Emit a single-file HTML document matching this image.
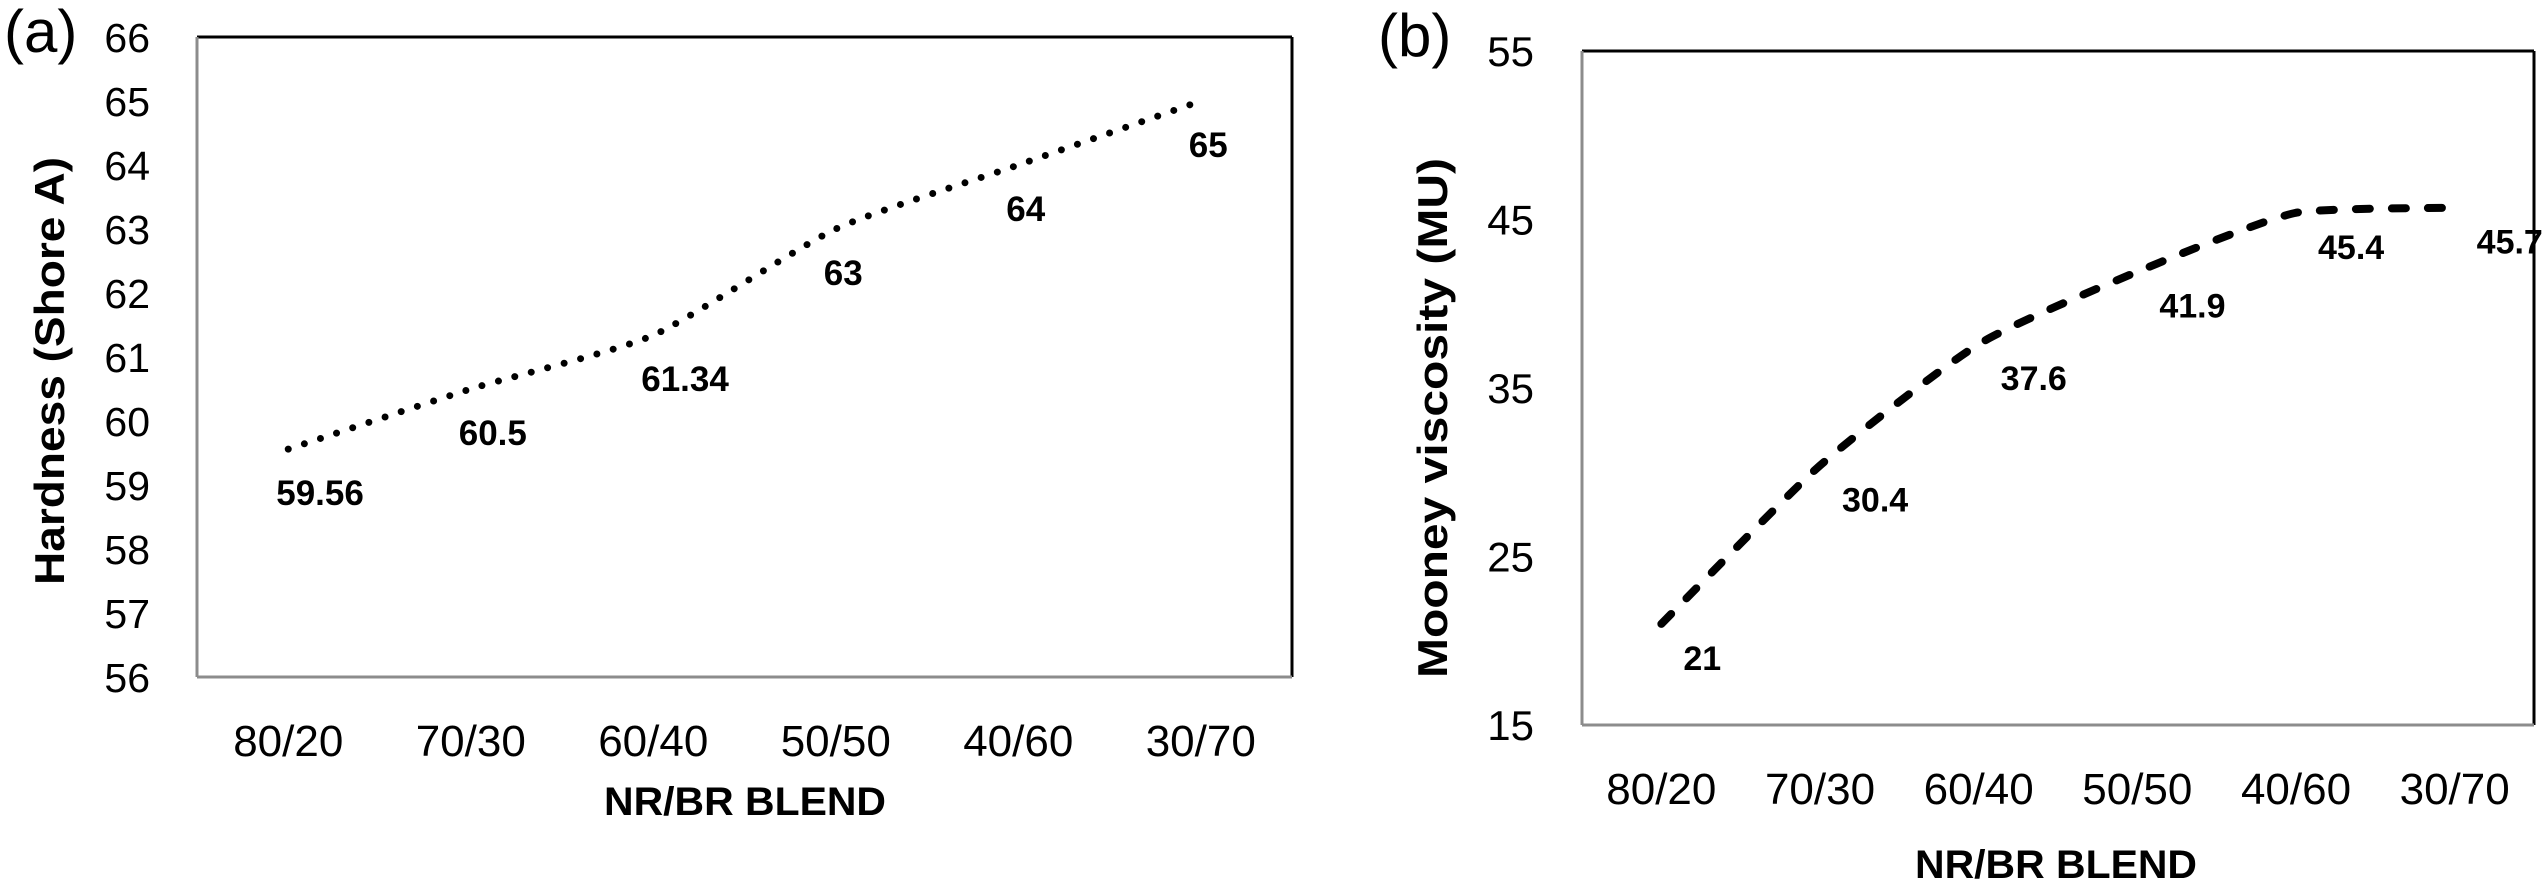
<!DOCTYPE html>
<html><head><meta charset="utf-8"><style>
html,body{margin:0;padding:0;background:#fff}
svg{display:block}
text{font-family:"Liberation Sans",sans-serif;fill:#000}
</style></head><body>
<svg id="chart" width="2543" height="886" viewBox="0 0 2543 886" xmlns="http://www.w3.org/2000/svg">
<text x="4" y="52" font-size="60">(a)</text>
<text x="1378" y="56" font-size="60">(b)</text>
<g id="ga"></g>
<g id="gb"></g>
</svg>
<script>
const categories = ["80/20","70/30","60/40","50/50","40/60","30/70"];
const hardnessValues = [59.56, 60.5, 61.34, 63, 64, 65];
const hardnessLabels = ["59.56","60.5","61.34","63","64","65"];
const hardnessTicks = [56,57,58,59,60,61,62,63,64,65,66];
const mooneyValues = [21, 30.4, 37.6, 41.9, 45.4, 45.7];
const mooneyLabels = ["21","30.4","37.6","41.9","45.4","45.7"];
const mooneyTicks = [15,25,35,45,55];

const NS="http://www.w3.org/2000/svg";
function mk(tag, attrs, parent){const e=document.createElementNS(NS,tag);for(const k in attrs)e.setAttribute(k,attrs[k]);parent.appendChild(e);return e;}

function smoothPath(pts){
  let d="M"+pts[0][0]+","+pts[0][1];
  for(let i=0;i<pts.length-1;i++){
    const p0=pts[i-1]||pts[i],p1=pts[i],p2=pts[i+1],p3=pts[i+2]||p2;
    const t=0.1;
    const lo=Math.min(p1[1],p2[1]), hi=Math.max(p1[1],p2[1]);
    const cl=v=>Math.max(lo,Math.min(hi,v));
    const c1=[p1[0]+(p2[0]-p0[0])*t,cl(p1[1]+(p2[1]-p0[1])*t)];
    const c2=[p2[0]-(p3[0]-p1[0])*t,cl(p2[1]-(p3[1]-p1[1])*t)];
    d+=" C"+c1[0]+","+c1[1]+" "+c2[0]+","+c2[1]+" "+p2[0]+","+p2[1];
  }
  return d;
}

function drawPanel(g, cfg){
  const {L,T,R,B,min,max,ticks,values,labels}=cfg;
  const n=categories.length, bw=(R-L)/n;
  const xS=i=>L+bw*(i+0.5);
  const yS=v=>B-(v-min)/(max-min)*(B-T);
  let e;
  e=mk("line",{x1:L,y1:T,x2:R,y2:T,stroke:"#000","stroke-width":3},g);
  
  
  e=mk("line",{x1:R,y1:T,x2:R,y2:B,stroke:"#000","stroke-width":3},g);
  
  
  e=mk("line",{x1:L,y1:T,x2:L,y2:B,stroke:"#8c8c8c","stroke-width":3},g);
  
  
  e=mk("line",{x1:L,y1:B,x2:R,y2:B,stroke:"#8c8c8c","stroke-width":3},g);
  
  
  ticks.forEach(t=>{
    const tx=mk("text",{x:cfg.tickRight,y:yS(t)+cfg.tickFs*0.36,"font-size":cfg.tickFs,"text-anchor":"end"},g);
    tx.textContent=t;
    
    
  });
  categories.forEach((c,i)=>{
    const tx=mk("text",{x:xS(i),y:cfg.xLabY,"font-size":cfg.xFs,"text-anchor":"middle"},g);
    tx.textContent=c;
    
    
  });
  const pts=values.map((v,i)=>[xS(i),yS(v)]);
  const p=mk("path",{d:smoothPath(pts),fill:"none",stroke:"#000","stroke-width":cfg.sw,"stroke-linecap":"round","stroke-dasharray":cfg.dash},g);
  
  
  values.forEach((v,i)=>{
    const tx=mk("text",{x:xS(i)+cfg.ldx,y:yS(v)+cfg.ldy,"font-size":cfg.lFs,"font-weight":"bold"},g);
    tx.textContent=labels[i];
    
    
  });
  let t=mk("text",{x:cfg.xtX,y:cfg.xtY,"font-size":40,"font-weight":"bold","text-anchor":"middle",textLength:282,lengthAdjust:"spacingAndGlyphs"},g);
  t.textContent="NR/BR BLEND";
  
  
  t=mk("text",{x:0,y:0,"font-size":42,"font-weight":"bold","text-anchor":"middle",textLength:cfg.ytLen,lengthAdjust:"spacingAndGlyphs",transform:"translate("+cfg.ytX+","+cfg.ytY+") rotate(-90)"},g);
  t.textContent=cfg.ytitle;
  
  
}

drawPanel(document.getElementById("ga"),{L:197,T:37,R:1292,B:677,min:56,max:66,ticks:hardnessTicks,values:hardnessValues,labels:hardnessLabels,
  tickRight:150,tickFs:41,xLabY:756,xFs:44,sw:7,dash:"0 17",ldx:-12,ldy:56,lFs:35,xtX:745,xtY:815,
  ytitle:"Hardness (Shore A)",ytX:64,ytY:371,ytLen:428});
drawPanel(document.getElementById("gb"),{L:1582,T:51,R:2534,B:725,min:15,max:55,ticks:mooneyTicks,values:mooneyValues,labels:mooneyLabels,
  tickRight:1534,tickFs:42,xLabY:804,xFs:44,sw:8,dash:"14 22",ldx:22,ldy:46,lFs:34,xtX:2056,xtY:878,
  ytitle:"Mooney viscosity (MU)",ytX:1447,ytY:418,ytLen:520});
</script>
</body></html>
